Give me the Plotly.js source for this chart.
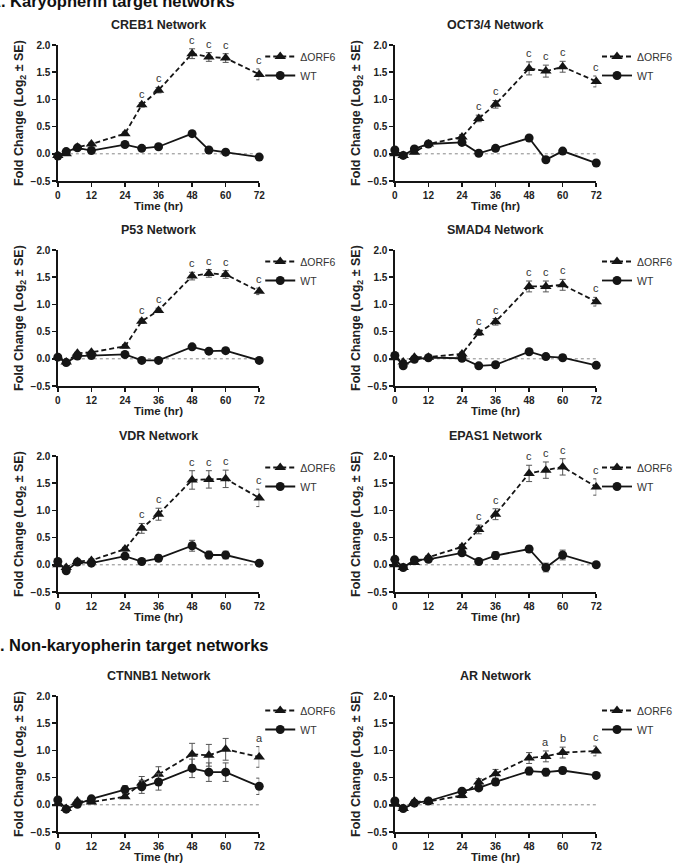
<!DOCTYPE html>
<html>
<head>
<meta charset="utf-8">
<script src="https://cdn.plot.ly/plotly-3.0.1.min.js"></script>
<style>
  html, body { margin: 0; padding: 0; background: #fff; }
  #chart { width: 678px; height: 864px; }
</style>
</head>
<body>
<div id="chart"></div>
<script>
// Sampling times (hours post infection)
const hours = [0, 3, 7, 12, 24, 30, 36, 48, 54, 60, 72];
const xTicks = [0, 12, 24, 36, 48, 60, 72];
const yTicks = [-0.5, 0, 0.5, 1, 1.5, 2];
const seriesNames = ['\u0394ORF6', 'WT'];

const networkTitles = ['CREB1 Network', 'OCT3/4 Network', 'P53 Network', 'SMAD4 Network',
                       'VDR Network', 'EPAS1 Network', 'CTNNB1 Network', 'AR Network'];

// Mean fold change (log2) and standard error per network
const creb1Orf6   = [-0.03, 0.00, 0.12, 0.18, 0.37, 0.90, 1.17, 1.84, 1.78, 1.76, 1.46];
const creb1Orf6Se = [0.02, 0.02, 0.02, 0.03, 0.03, 0.04, 0.05, 0.09, 0.08, 0.08, 0.10];
const creb1Wt     = [-0.04, 0.04, 0.11, 0.06, 0.17, 0.10, 0.13, 0.37, 0.07, 0.03, -0.06];
const creb1WtSe   = [0.02, 0.02, 0.02, 0.02, 0.02, 0.02, 0.02, 0.02, 0.02, 0.02, 0.02];
const creb1Sig    = ['', '', '', '', '', 'c', 'c', 'c', 'c', 'c', 'c'];

const oct34Orf6   = [0.00, -0.03, 0.03, 0.18, 0.31, 0.65, 0.91, 1.57, 1.52, 1.60, 1.33];
const oct34Orf6Se = [0.02, 0.02, 0.03, 0.03, 0.04, 0.06, 0.07, 0.12, 0.11, 0.10, 0.10];
const oct34Wt     = [0.07, -0.03, 0.09, 0.18, 0.21, 0.01, 0.10, 0.29, -0.11, 0.05, -0.17];
const oct34WtSe   = [0.02, 0.02, 0.02, 0.03, 0.04, 0.02, 0.03, 0.03, 0.04, 0.04, 0.03];
const oct34Sig    = ['', '', '', '', '', 'c', 'c', 'c', 'c', 'c', 'c'];

const p53Orf6     = [0.03, -0.06, 0.10, 0.12, 0.23, 0.69, 0.89, 1.52, 1.57, 1.55, 1.24];
const p53Orf6Se   = [0.02, 0.02, 0.02, 0.02, 0.03, 0.04, 0.04, 0.07, 0.07, 0.07, 0.06];
const p53Wt       = [0.03, -0.07, 0.05, 0.06, 0.08, -0.03, -0.03, 0.22, 0.14, 0.15, -0.03];
const p53WtSe     = [0.02, 0.02, 0.02, 0.02, 0.02, 0.02, 0.02, 0.02, 0.02, 0.02, 0.02];
const p53Sig      = ['', '', '', '', '', 'c', 'c', 'c', 'c', 'c', 'c'];

const smad4Orf6   = [0.02, -0.06, 0.03, 0.03, 0.09, 0.48, 0.68, 1.33, 1.33, 1.36, 1.05];
const smad4Orf6Se = [0.02, 0.03, 0.02, 0.02, 0.03, 0.05, 0.06, 0.10, 0.10, 0.10, 0.08];
const smad4Wt     = [0.06, -0.13, -0.01, 0.02, 0.01, -0.13, -0.11, 0.13, 0.04, 0.02, -0.12];
const smad4WtSe   = [0.03, 0.04, 0.03, 0.03, 0.03, 0.04, 0.03, 0.05, 0.05, 0.05, 0.05];
const smad4Sig    = ['', '', '', '', '', 'c', 'c', 'c', 'c', 'c', 'c'];

const vdrOrf6     = [0.00, -0.05, 0.06, 0.08, 0.29, 0.67, 0.93, 1.56, 1.57, 1.58, 1.23];
const vdrOrf6Se   = [0.02, 0.03, 0.02, 0.03, 0.03, 0.09, 0.11, 0.17, 0.16, 0.16, 0.16];
const vdrWt       = [0.06, -0.11, 0.05, 0.03, 0.16, 0.06, 0.12, 0.35, 0.18, 0.18, 0.03];
const vdrWtSe     = [0.02, 0.03, 0.02, 0.02, 0.03, 0.05, 0.06, 0.10, 0.07, 0.07, 0.03];
const vdrSig      = ['', '', '', '', '', 'c', 'c', 'c', 'c', 'c', 'c'];

const epas1Orf6   = [0.00, -0.05, 0.04, 0.14, 0.33, 0.65, 0.93, 1.68, 1.74, 1.80, 1.43];
const epas1Orf6Se = [0.02, 0.03, 0.03, 0.03, 0.04, 0.08, 0.10, 0.15, 0.15, 0.15, 0.15];
const epas1Wt     = [0.10, -0.05, 0.09, 0.10, 0.22, 0.06, 0.17, 0.29, -0.05, 0.18, 0.00];
const epas1WtSe   = [0.02, 0.03, 0.03, 0.03, 0.05, 0.03, 0.07, 0.06, 0.08, 0.09, 0.02];
const epas1Sig    = ['', '', '', '', '', 'c', 'c', 'c', 'c', 'c', 'c'];

const ctnnb1Orf6   = [0.02, -0.07, 0.07, 0.05, 0.15, 0.40, 0.56, 0.93, 0.91, 1.02, 0.88];
const ctnnb1Orf6Se = [0.02, 0.02, 0.03, 0.03, 0.03, 0.12, 0.14, 0.20, 0.20, 0.20, 0.19];
const ctnnb1Wt     = [0.09, -0.08, 0.01, 0.11, 0.28, 0.33, 0.42, 0.67, 0.60, 0.60, 0.34];
const ctnnb1WtSe   = [0.03, 0.02, 0.03, 0.03, 0.07, 0.12, 0.15, 0.17, 0.17, 0.17, 0.15];
const ctnnb1Sig    = ['', '', '', '', '', '', '', '', '', '', 'a'];

const arOrf6      = [0.01, -0.07, 0.06, 0.06, 0.17, 0.42, 0.57, 0.86, 0.89, 0.96, 0.99];
const arOrf6Se    = [0.02, 0.02, 0.03, 0.03, 0.04, 0.06, 0.08, 0.10, 0.10, 0.10, 0.09];
const arWt        = [0.07, -0.07, 0.03, 0.07, 0.25, 0.31, 0.42, 0.62, 0.60, 0.63, 0.54];
const arWtSe      = [0.02, 0.02, 0.03, 0.03, 0.04, 0.05, 0.06, 0.07, 0.07, 0.06, 0.06];
const arSig       = ['', '', '', '', '', '', '', '', 'a', 'b', 'c'];

const panels = [
  [creb1Orf6, creb1Orf6Se, creb1Wt, creb1WtSe, creb1Sig],
  [oct34Orf6, oct34Orf6Se, oct34Wt, oct34WtSe, oct34Sig],
  [p53Orf6, p53Orf6Se, p53Wt, p53WtSe, p53Sig],
  [smad4Orf6, smad4Orf6Se, smad4Wt, smad4WtSe, smad4Sig],
  [vdrOrf6, vdrOrf6Se, vdrWt, vdrWtSe, vdrSig],
  [epas1Orf6, epas1Orf6Se, epas1Wt, epas1WtSe, epas1Sig],
  [ctnnb1Orf6, ctnnb1Orf6Se, ctnnb1Wt, ctnnb1WtSe, ctnnb1Sig],
  [arOrf6, arOrf6Se, arWt, arWtSe, arSig]
];

// ---- page geometry (pixels) ----
const W = 678, H = 864;
const FONT = 'Liberation Sans, Arial, Helvetica, sans-serif';
const colLeft = [58, 396];
const rowTop = [45, 250, 456, 696];
const legendDrop = [-3, -3, -3, 0];
const plotW = 202, plotH = 136;
const px = v => v / W;
const py = v => 1 - v / H;

const ink = '#151515';
const traces = [];
const layout = {
  width: W, height: H,
  margin: {l: 0, r: 0, t: 0, b: 0},
  paper_bgcolor: '#fff', plot_bgcolor: 'rgba(0,0,0,0)',
  font: {family: FONT, color: ink},
  annotations: [], shapes: [],
  showlegend: true
};

panels.forEach((p, i) => {
  const n = i + 1;
  const sfx = n === 1 ? '' : String(n);
  const col = i % 2, row = Math.floor(i / 2);
  const left = colLeft[col], top = rowTop[row];
  const xa = 'x' + sfx, ya = 'y' + sfx;
  const legName = 'legend' + sfx;
  const [orf6, orf6Se, wt, wtSe, sig] = p;

  traces.push({
    x: hours, y: orf6, name: seriesNames[0], type: 'scatter', mode: 'lines+markers',
    xaxis: xa, yaxis: ya, legend: legName, cliponaxis: false,
    line: {color: ink, width: 1.8, dash: '5px,3px'},
    marker: {symbol: 'triangle-up', size: 10, color: ink},
    error_y: {type: 'data', array: orf6Se, visible: true, color: '#555', thickness: 1, width: 3}
  });
  traces.push({
    x: hours, y: wt, name: seriesNames[1], type: 'scatter', mode: 'lines+markers',
    xaxis: xa, yaxis: ya, legend: legName, cliponaxis: false,
    line: {color: ink, width: 1.8},
    marker: {symbol: 'circle', size: 9, color: ink},
    error_y: {type: 'data', array: wtSe, visible: true, color: '#555', thickness: 1, width: 3}
  });

  const axisCommon = {
    showline: true, linecolor: ink, linewidth: 1.5,
    ticks: 'outside', ticklen: 4, tickwidth: 1.5, tickcolor: ink,
    showgrid: false, zeroline: false, fixedrange: true,
    tickfont: {family: FONT, size: 10, color: '#222', weight: 'bold'}
  };
  layout['xaxis' + sfx] = Object.assign({}, axisCommon, {
    domain: [px(left), px(left + plotW)], anchor: ya, range: [0, 72],
    tickmode: 'array', tickvals: xTicks,
    title: {text: 'Time (hr)', standoff: 2, font: {family: FONT, size: 11.5, color: '#222', weight: 'bold'}}
  });
  layout['yaxis' + sfx] = Object.assign({}, axisCommon, {
    domain: [py(top + plotH), py(top)], anchor: xa, range: [-0.5, 2.0],
    tickmode: 'array', tickvals: yTicks, tickformat: '.1f',
    title: {text: 'Fold Change (Log<sub>2</sub> \u00b1 SE)', standoff: 4, font: {family: FONT, size: 12.5, color: '#222', weight: 'bold'}}
  });

  layout[legName] = {
    x: px(left + plotW + 1), y: py(top + legendDrop[row]), xanchor: 'left', yanchor: 'top',
    bgcolor: 'rgba(0,0,0,0)', borderwidth: 0, itemwidth: 30,
    font: {family: FONT, size: 10.5, color: '#333'}, tracegroupgap: 0
  };

  // panel title
  layout.annotations.push({
    xref: 'paper', yref: 'paper', x: px(left + plotW / 2), y: py(top - 20),
    xanchor: 'center', yanchor: 'middle', showarrow: false,
    text: networkTitles[i], font: {family: FONT, size: 12.5, color: '#222', weight: 'bold'}
  });

  // dotted baseline at zero
  layout.shapes.push({
    type: 'line', xref: xa, yref: ya, x0: 0, x1: 72, y0: 0, y1: 0,
    line: {color: '#888', width: 1, dash: 'dot'}, layer: 'below'
  });

  // significance letters above the ΔORF6 error bars
  sig.forEach((s, k) => {
    if (!s) return;
    layout.annotations.push({
      xref: xa, yref: ya, x: hours[k], y: orf6[k] + orf6Se[k],
      xanchor: 'center', yanchor: 'middle', yshift: 9, showarrow: false,
      text: s, font: {family: FONT, size: 11, color: '#333'}
    });
  });
});

// section headings
layout.annotations.push({
  xref: 'paper', yref: 'paper', x: px(-12.6), y: py(1), xanchor: 'left', yanchor: 'middle',
  showarrow: false, text: 'A. Karyopherin target networks',
  font: {family: FONT, size: 16.5, color: '#111', weight: 'bold'}
});
layout.annotations.push({
  xref: 'paper', yref: 'paper', x: px(-14), y: py(645), xanchor: 'left', yanchor: 'middle',
  showarrow: false, text: 'B. Non-karyopherin target networks',
  font: {family: FONT, size: 16.5, color: '#111', weight: 'bold'}
});

Plotly.newPlot('chart', traces, layout, {staticPlot: true, displayModeBar: false});
</script>
</body>
</html>
